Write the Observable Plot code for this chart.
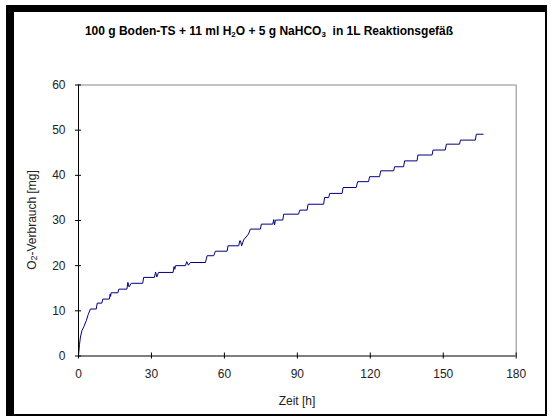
<!DOCTYPE html>
<html>
<head>
<meta charset="utf-8">
<script src="https://cdn.jsdelivr.net/npm/d3@7"></script>
<script src="https://cdn.jsdelivr.net/npm/@observablehq/plot@0.6"></script>
<style>
  html, body { margin: 0; padding: 0; background: #fff; }
  #wrap { position: relative; width: 555px; height: 416px; overflow: hidden; font-family: "Liberation Sans", Arial, sans-serif; }
  #wrap svg { position: absolute; left: 0; top: 0; }
  .bar { position: absolute; background: #000; }
  #title { position: absolute; left: 0; width: 538px; top: 24px; text-align: center; font-weight: bold; font-size: 12px; color: #000; white-space: nowrap; }
  #title sub { font-size: 8px; vertical-align: baseline; position: relative; top: 2px; }
  #xlab { position: absolute; left: 78px; width: 438px; top: 394px; text-align: center; font-size: 12px; color: #222; }
  #ylab { position: absolute; left: 32px; top: 220px; transform: translate(-50%, -50%) rotate(-90deg); font-size: 12px; color: #222; white-space: nowrap; }
  #ylab sub { font-size: 9px; vertical-align: baseline; position: relative; top: 1px; }
</style>
</head>
<body>
<div id="wrap">
  <div id="chart"></div>
  <div class="bar" style="left:6px;top:5px;width:541px;height:7px"></div>
  <div class="bar" style="left:6px;top:5px;width:8px;height:411px"></div>
  <div class="bar" style="left:545px;top:5px;width:2px;height:411px"></div>
  <div class="bar" style="left:6px;top:414px;width:541px;height:2px"></div>
  <div id="title">100 g Boden-TS + 11 ml H<sub>2</sub>O + 5 g NaHCO<sub>3</sub>&nbsp; in 1L Reaktionsgefäß</div>
  <div id="xlab">Zeit [h]</div>
  <div id="ylab">O<sub>2</sub>-Verbrauch [mg]</div>
</div>
<script>
const zeit = [0,0.4,0.8,1.4,2.2,3.2,4.0,4.9,7.3,7.7,9.6,10.0,12.7,13.0,13.2,13.4,16.2,16.6,19.9,20.3,20.8,21.7,26.4,26.8,31.2,31.7,32.2,32.9,38.9,39.3,39.6,39.9,44.0,44.5,45.2,46.0,52.2,52.9,55.6,56.3,61.1,61.5,65.9,66.3,66.6,67.1,67.9,69.9,70.7,74.8,75.2,79.9,80.3,80.6,81.0,84.0,84.4,90.5,91.0,94.0,94.4,100.8,101.2,102.9,103.3,108.4,108.8,114.2,114.8,119.3,119.7,123.8,124.3,129.6,130.0,133.7,134.1,139.2,139.6,145.4,145.8,150.8,151.3,156.7,157.1,163.2,163.6,166.4];
const verbrauch = [0,2.5,4.2,5.6,6.5,7.8,9.2,10.4,10.4,11.7,11.7,12.6,12.6,13.7,13.2,14.0,14.0,14.8,14.8,16.3,15.3,16.1,16.1,17.4,17.4,18.6,17.5,18.5,18.5,19.8,19.2,20.0,20.0,20.9,20.1,20.7,20.7,22.2,22.2,23.2,23.2,24.4,24.4,25.5,25.5,24.4,25.7,27.0,28.1,28.1,29.2,29.2,30.2,29.0,30.1,30.1,31.4,31.4,32.3,32.3,33.6,33.6,35.1,35.1,36.0,36.0,37.3,37.3,38.6,38.6,39.7,39.7,41.0,41.0,41.9,41.9,43.2,43.2,44.5,44.5,45.6,45.6,46.9,46.9,47.8,47.8,49.1,49.1];
const xTicks = [0,30,60,90,120,150,180];
const yTicks = [0,10,20,30,40,50,60];

const data = zeit.map((t, i) => ({t, v: verbrauch[i]}));

const chart = Plot.plot({
  width: 555,
  height: 416,
  marginLeft: 78,
  marginRight: 39.3,
  marginTop: 84.5,
  marginBottom: 60.5,
  style: {fontFamily: "'Liberation Sans', Arial, sans-serif", fontSize: "12px", color: "#222", background: "transparent"},
  x: {domain: [0, 180], ticks: xTicks},
  y: {domain: [0, 60], ticks: yTicks},
  marks: [
    Plot.ruleY([60], {stroke: "#888", strokeWidth: 1}),
    Plot.ruleX([180], {stroke: "#888", strokeWidth: 1}),
    Plot.line(data, {x: "t", y: "v", stroke: "#000080", strokeWidth: 1, curve: "linear"}),
    Plot.ruleX([0], {stroke: "#000", strokeWidth: 1}),
    Plot.ruleY([0], {stroke: "#000", strokeWidth: 1}),
    Plot.axisX({ticks: xTicks, tickSize: 6, dy: -3, tickPadding: 10, label: null, stroke: "#000", strokeOpacity: 1, fill: "#222"}),
    Plot.axisY({ticks: yTicks, tickSize: 6, dx: 3, tickPadding: 10, label: null, stroke: "#000", strokeOpacity: 1, fill: "#222"})
  ]
});
document.getElementById("chart").appendChild(chart);
</script>
</body>
</html>
